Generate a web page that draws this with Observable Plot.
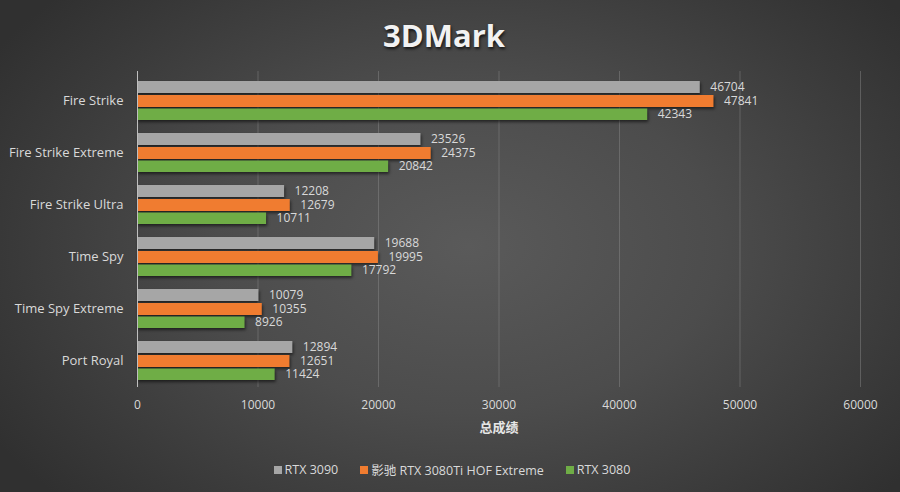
<!DOCTYPE html>
<html>
<head>
<meta charset="utf-8">
<script src="https://cdn.jsdelivr.net/npm/d3@7"></script>
<script src="https://cdn.jsdelivr.net/npm/@observablehq/plot@0.6"></script>
<style>
  html, body { margin: 0; padding: 0; }
  body { width: 900px; height: 492px; overflow: hidden; }
  #chart {
    width: 900px; height: 492px; position: relative;
    background: radial-gradient(ellipse 62% 75% at 52% 50%, #5a5a5a 0%, #4c4c4c 45%, #3a3a3a 80%, #303030 100%);
    font-family: "Open Sans", "Noto Sans CJK SC", sans-serif;
    color: #d9d9d9;
  }
  #title {
    height: 62px; line-height: 70px; text-align: center;
    font-size: 31px; font-weight: 700; color: #f2f2f2;
    text-shadow: 1px 2px 3px rgba(0,0,0,0.7);
    font-family: "Open Sans", "Noto Sans", sans-serif;
    padding-right: 12px;
  }
  #plot svg { display: block; background: transparent; }
  #plot g[aria-label="bar"] { filter: drop-shadow(1px 2px 1.5px rgba(0,0,0,0.55)); }
  #plot g[aria-label="y-axis"] text, #plot g[aria-label="y-axis tick label"] text { font-size: 13px; }
  #legend {
    display: flex; justify-content: center; align-items: center;
    height: 45px; font-size: 12.5px; color: #d9d9d9; margin-left: 4px;
    font-family: "Open Sans", "Noto Sans CJK SC", sans-serif;
  }
  .item { display: flex; align-items: center; margin: 0 11px; }
  .sw { width: 8px; height: 8px; margin-right: 3px; }
</style>
</head>
<body>
<div id="chart">
  <div id="title">3DMark</div>
  <div id="plot"></div>
  <div id="legend"></div>
</div>
<script>
const categories = ["Fire Strike", "Fire Strike Extreme", "Fire Strike Ultra", "Time Spy", "Time Spy Extreme", "Port Royal"];
const seriesNames = ["RTX 3090", "影驰 RTX 3080Ti HOF Extreme", "RTX 3080"];
const rtx3090 = [46704, 23526, 12208, 19688, 10079, 12894];
const hof3080ti = [47841, 24375, 12679, 19995, 10355, 12651];
const rtx3080 = [42343, 20842, 10711, 17792, 8926, 11424];
const seriesColors = ["#a6a6a6", "#f07c30", "#6fad46"];
const xTicks = [0, 10000, 20000, 30000, 40000, 50000, 60000];
const xLabel = "总成绩";

const seriesValues = [rtx3090, hof3080ti, rtx3080];
const tables = seriesValues.map(vals => categories.map((c, i) => ({category: c, value: vals[i]})));

// bar placement inside each category band (band ≈ 38.75px)
const insets = [
  {insetTop: 0, insetBottom: 27},
  {insetTop: 14, insetBottom: 13},
  {insetTop: 27.5, insetBottom: 0}
];
const labelDy = [-13.5, 0.5, 13.5];

const font = "'Open Sans', 'Noto Sans CJK SC', sans-serif";

const marks = [
  Plot.ruleX(xTicks, {stroke: "#8c8c8c", strokeOpacity: 0.45, insetTop: -3}),
];
tables.forEach((t, k) => {
  marks.push(Plot.barX(t, {
    x: "value", y: "category", fill: seriesColors[k],
    insetTop: insets[k].insetTop, insetBottom: insets[k].insetBottom
  }));
});
tables.forEach((t, k) => {
  marks.push(Plot.text(t, {
    x: "value", y: "category", text: d => String(d.value),
    dx: 10, dy: labelDy[k], textAnchor: "start",
    fill: "#d9d9d9", fontSize: 12, fontFamily: font
  }));
});
marks.push(Plot.ruleX([0], {stroke: "#bfbfbf", strokeWidth: 1, insetTop: -3}));
marks.push(Plot.text([xLabel], {
  frameAnchor: "bottom", dy: 44, fill: "#e6e6e6", fontSize: 13,
  fontWeight: "bold", fontFamily: font
}));

const plot = Plot.plot({
  width: 900,
  height: 385,
  marginTop: 12,
  marginBottom: 60,
  marginLeft: 137,
  marginRight: 40,
  style: {background: "transparent", color: "#d9d9d9", fontFamily: font, fontSize: "12px"},
  x: {domain: [0, 60000], ticks: xTicks, tickFormat: d => String(d), tickSize: 0, tickPadding: 13, label: null},
  y: {domain: categories, paddingInner: 0.25, paddingOuter: 0.125, tickSize: 0, tickPadding: 14, label: null},
  marks
});
document.getElementById("plot").appendChild(plot);

// enlarge category labels slightly
d3.select(plot).selectAll("g[aria-label^='y-axis'] text").style("font-size", "13px");

const legend = document.getElementById("legend");
seriesNames.forEach((name, k) => {
  const item = document.createElement("div");
  item.className = "item";
  const sw = document.createElement("div");
  sw.className = "sw";
  sw.style.background = seriesColors[k];
  const lab = document.createElement("span");
  lab.textContent = name;
  item.appendChild(sw);
  item.appendChild(lab);
  legend.appendChild(item);
});
</script>
</body>
</html>
